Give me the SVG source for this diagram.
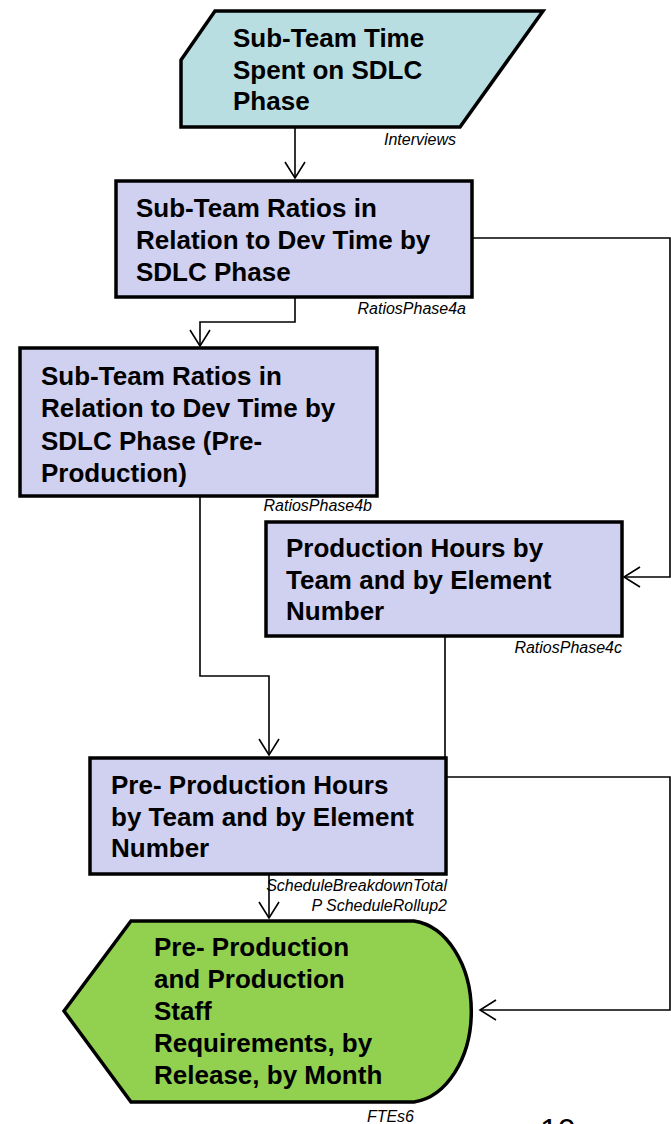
<svg xmlns="http://www.w3.org/2000/svg" width="671" height="1124" viewBox="0 0 671 1124">
<style>
.t{font-family:"Liberation Sans",Arial,sans-serif;font-weight:bold;font-size:26px;fill:#000}
.l{font-family:"Liberation Sans",Arial,sans-serif;font-style:italic;font-size:16px;fill:#000}
.box{stroke:#000;stroke-width:3.5}
.c{fill:none;stroke:#000;stroke-width:1.6}
</style>
<defs>
<marker id="a" markerUnits="userSpaceOnUse" markerWidth="24" markerHeight="24" viewBox="-18 -12 20 24" refX="0" refY="0" orient="auto">
<path d="M-16,-10 L0,0 L-16,10" fill="none" stroke="#000" stroke-width="1.6"/>
</marker>
</defs>
<rect width="671" height="1124" fill="#fff"/>
<g id="connectors">
<path class="c" d="M295,127 V178" marker-end="url(#a)"/>
<path class="c" d="M295,297 V322 H200 V346" marker-end="url(#a)"/>
<path class="c" d="M472,238 H670 V577 H624" marker-end="url(#a)"/>
<path class="c" d="M200,497 V676 H269 V755" marker-end="url(#a)"/>
<path class="c" d="M445,636 V777 H670 V1010 H480" marker-end="url(#a)"/>
<path class="c" d="M269,874 V918" marker-end="url(#a)"/>
</g>
<g id="node1">
<polygon class="box" points="215,11 543,11 460,127 181,127 181,60" fill="#b9dee1"/>
<text class="t"><tspan x="233" y="47">Sub-Team Time</tspan><tspan x="233" y="79">Spent on SDLC</tspan><tspan x="233" y="110">Phase</tspan></text>
<text class="l" x="456" y="145" text-anchor="end">Interviews</text>
</g>
<g id="node2">
<rect class="box" x="116" y="181" width="356" height="116" fill="#d0d1f0"/>
<text class="t"><tspan x="136" y="217">Sub-Team Ratios in</tspan><tspan x="136" y="249">Relation to Dev Time by</tspan><tspan x="136" y="281">SDLC Phase</tspan></text>
<text class="l" x="466" y="314" text-anchor="end">RatiosPhase4a</text>
</g>
<g id="node3">
<rect class="box" x="20" y="348" width="357" height="148" fill="#d0d1f0"/>
<text class="t"><tspan x="41" y="385">Sub-Team Ratios in</tspan><tspan x="41" y="417">Relation to Dev Time by</tspan><tspan x="41" y="450">SDLC Phase (Pre-</tspan><tspan x="41" y="482">Production)</tspan></text>
<text class="l" x="372" y="511" text-anchor="end">RatiosPhase4b</text>
</g>
<g id="node4">
<rect class="box" x="266" y="522" width="356" height="114" fill="#d0d1f0"/>
<text class="t"><tspan x="286" y="557">Production Hours by</tspan><tspan x="286" y="589">Team and by Element</tspan><tspan x="286" y="620">Number</tspan></text>
<text class="l" x="622" y="653" text-anchor="end">RatiosPhase4c</text>
</g>
<g id="node5">
<rect class="box" x="90" y="758" width="356" height="116" fill="#d0d1f0"/>
<text class="t"><tspan x="111" y="794">Pre- Production Hours</tspan><tspan x="111" y="826">by Team and by Element</tspan><tspan x="111" y="857">Number</tspan></text>
<text class="l" x="447" y="891" text-anchor="end">ScheduleBreakdownTotal</text>
<text class="l" x="447" y="911" text-anchor="end">P ScheduleRollup2</text>
</g>
<g id="node6">
<path class="box" d="M64,1011 L131,921 H414 A64,91 0 0 1 414,1102 H131 Z" fill="#92d050"/>
<text class="t"><tspan x="154" y="956">Pre- Production</tspan><tspan x="154" y="988">and Production</tspan><tspan x="154" y="1020">Staff</tspan><tspan x="154" y="1052">Requirements, by</tspan><tspan x="154" y="1084">Release, by Month</tspan></text>
<text class="l" x="414" y="1122" text-anchor="end">FTEs6</text>
</g>
<text x="540" y="1141" font-family="Liberation Sans,Arial,sans-serif" font-size="32" fill="#000">10</text>
</svg>
